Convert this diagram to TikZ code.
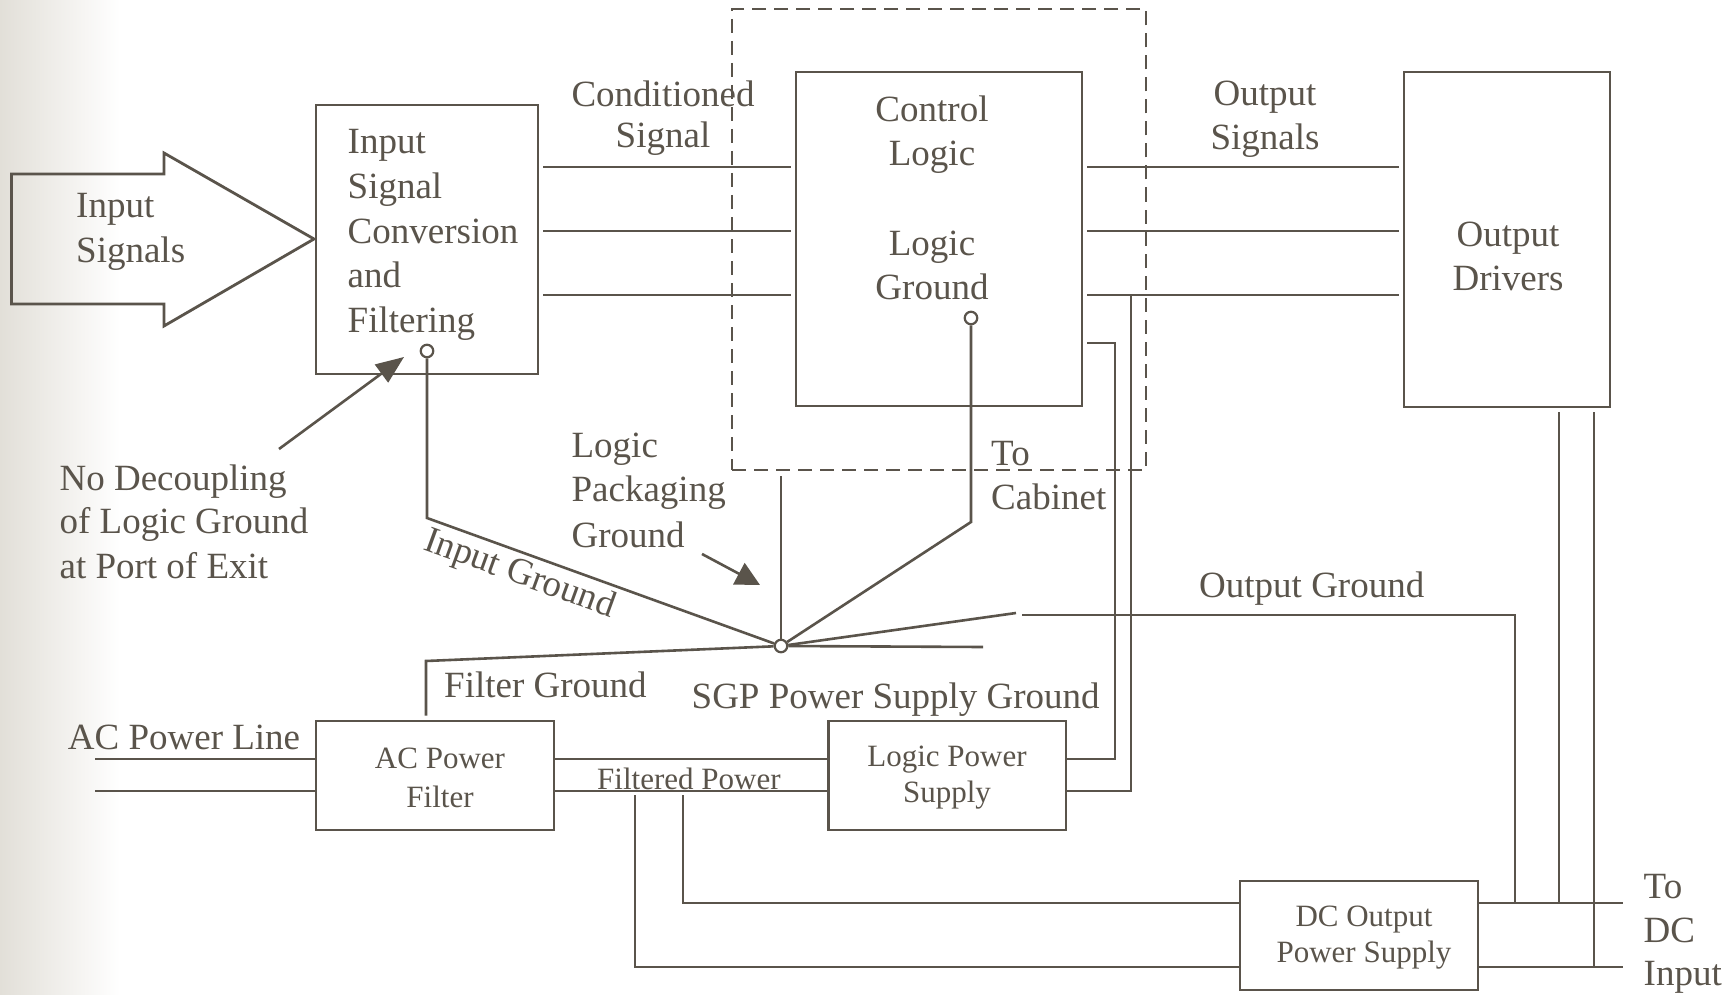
\documentclass[tikz,border=0pt]{standalone}
\usepackage{fontspec}
\setmainfont{Liberation Serif}
\usetikzlibrary{arrows.meta}
\definecolor{ink}{RGB}{90,84,75}
\definecolor{bgl}{RGB}{226,223,216}
\begin{document}
\begin{tikzpicture}[x=1pt,y=-1pt,
  ln/.style={draw=ink,line width=2.6pt},
  boxn/.style={draw=ink,line width=2.8pt,inner sep=0pt,rectangle},
  big/.style={text=ink,inner sep=0pt,font=\fontsize{37}{44}\selectfont},
  sm/.style={text=ink,inner sep=0pt,font=\fontsize{31}{38}\selectfont},
  gdot/.style={circle,draw=ink,fill=white,line width=2.2pt,minimum size=12.5pt,inner sep=0pt},
  annot/.style={ln,-{Triangle[length=28pt,width=22pt]}}]
\useasboundingbox (0,0) rectangle (1728,995);
\fill[white] (0,0) rectangle (1728,995);
\shade[left color=bgl,right color=white] (0,0) rectangle (120,995);

% packaging (dashed) enclosure
\node[draw=ink,line width=2pt,dash pattern=on 14pt off 8pt,minimum width=413.5pt,minimum height=461pt,inner sep=0pt] (pkg) at (938.75,239.5) {};

% boxes
\node[boxn,minimum width=222pt,minimum height=269pt] (isc) at (427,239.5) {};
\node[boxn,minimum width=286pt,minimum height=334pt] (cl) at (939,239) {};
\node[boxn,minimum width=206pt,minimum height=335pt] (od) at (1507,239.5) {};
\node[boxn,minimum width=238pt,minimum height=109pt] (acf) at (435,775.5) {};
\node[boxn,minimum width=237.5pt,minimum height=109pt] (lps) at (947.25,775.5) {};
\node[boxn,minimum width=238pt,minimum height=109pt] (dcps) at (1359,935.5) {};

% input arrow
\draw[ln,line width=2.8pt] (11.5,174) -- (164,174) -- (164,153) -- (314,239) coordinate (tip) -- (164,326) -- (164,304) -- (11.5,304) -- cycle;

% signal lines
\foreach \yy in {167,231,295} {
  \draw[ln,shorten <=4pt,shorten >=4pt] (isc.east |- 0,\yy) -- (cl.west |- 0,\yy);
  \draw[ln,shorten <=4pt,shorten >=4pt] (cl.east |- 0,\yy) -- (od.west |- 0,\yy);
}

% logic power connections
\coordinate (j3) at (1131,295);
\draw[ln,shorten <=4pt] (cl.east |- 0,343) -- (1115,343) -- (1115,759) -- (lps.east |- 0,759);
\draw[ln] (j3) -- (1131,791) -- (lps.east |- 0,791);

% AC power line
\coordinate (ac1) at (95,759);
\coordinate (ac2) at (95,791);
\draw[ln] (ac1) -- (acf.west |- ac1);
\draw[ln] (ac2) -- (acf.west |- ac2);
\draw[ln] (acf.east |- 0,759) -- (lps.west |- 0,759);
\draw[ln] (acf.east |- 0,791) -- (lps.west |- 0,791);
\coordinate (fp1) at (635,795);
\coordinate (fp2) at (683,795);
\draw[ln] (fp1) -- (635,967) -- (dcps.west |- 0,967);
\draw[ln] (fp2) -- (683,903) -- (dcps.west |- 0,903);

% DC outputs
\coordinate (dc1) at (1623,903);
\coordinate (dc2) at (1623,967);
\draw[ln] (dcps.east |- dc1) -- (dc1);
\draw[ln] (dcps.east |- dc2) -- (dc2);
\draw[ln,shorten <=4pt] (od.south -| 1559,0) -- (1559,903);
\draw[ln,shorten <=4pt] (od.south -| 1594,0) -- (1594,967);

% grounds
\node[gdot] (ig) at (427,351) {};
\node[gdot] (lg) at (971,318) {};
\node[gdot] (sgp) at (781,646) {};
\draw[ln] (ig) -- (427,518) -- (sgp);
\draw[ln] (lg) -- (971,522) -- (sgp);
\draw[ln,shorten <=5pt] (pkg.south -| sgp) -- (sgp);
\draw[ln,shorten <=4pt] (acf.north -| 426,0) -- (426,661) -- (sgp);
\coordinate (sgpr) at (983,647);
\draw[ln] (sgp) -- (sgpr);
\draw[ln] (sgp) -- (1016,613);
\draw[ln] (1022,615) -- (1515,615) -- (1515,903);

% annotation arrows
\coordinate (nd) at (279,449);
\coordinate (lpg) at (702,554);
\draw[annot] (nd) -- (404,357);
\draw[ln,-{Triangle[length=24pt,width=24pt]}] (lpg) -- (760,585);

% texts
\node[big,anchor=base west] (t1) at (76,218) {Input};
\node[big,anchor=base west] (t2) at (76,262) {Signals};
\node[big,anchor=base west] (t3) at (347.5,154) {Input};
\node[big,anchor=base west] (t4) at (347.5,198) {Signal};
\node[big,anchor=base west] (t5) at (347.5,243) {Conversion};
\node[big,anchor=base west] (t6) at (347.5,287) {and};
\node[big,anchor=base west] (t7) at (347.5,332) {Filtering};
\node[big,anchor=base] (t8) at (663,107) {Conditioned};
\node[big,anchor=base] (t9) at (663,148) {Signal};
\node[big,anchor=base] (t10) at (932,122) {Control};
\node[big,anchor=base] (t11) at (932,166) {Logic};
\node[big,anchor=base] (t12) at (932,255) {Logic};
\node[big,anchor=base] (t13) at (932,299) {Ground};
\node[big,anchor=base] (t14) at (1265,106) {Output};
\node[big,anchor=base] (t15) at (1265,150) {Signals};
\node[big,anchor=base] (t16) at (1508,246) {Output};
\node[big,anchor=base] (t17) at (1508,290) {Drivers};
\node[big,anchor=base west] (t18) at (59.4,490) {No Decoupling};
\node[big,anchor=base west] (t19) at (59.4,533) {of Logic Ground};
\node[big,anchor=base west] (t20) at (59.4,578) {at Port of Exit};
\node[big,anchor=base west] (t21) at (571.4,457) {Logic};
\node[big,anchor=base west] (t22) at (571.4,501) {Packaging};
\node[big,anchor=base west] (t23) at (571.4,547) {Ground};
\node[big,anchor=base west] (t24) at (991,465) {To};
\node[big,anchor=base west] (t25) at (991,509) {Cabinet};
\node[big,anchor=base west,rotate=-20] (t26) at (422,549) {Input Ground};
\node[big,anchor=base west] (t27) at (444,697) {Filter Ground};
\node[big,anchor=base west] (t28) at (691.5,708) {SGP Power Supply Ground};
\node[big,anchor=base west] (t29) at (1199,597) {Output Ground};
\node[big,anchor=base west] (t30) at (67.7,749) {AC Power Line};
\node[big,anchor=base west] (t31) at (1643.5,898) {To};
\node[big,anchor=base west] (t32) at (1643.5,942) {DC};
\node[big,anchor=base west] (t33) at (1643.5,985) {Input};
\node[sm,anchor=base] (s1) at (440,768) {AC Power};
\node[sm,anchor=base] (s2) at (440,807) {Filter};
\node[sm,anchor=base] (s3) at (947,766) {Logic Power};
\node[sm,anchor=base] (s4) at (947,802) {Supply};
\node[sm,anchor=base] (s5) at (1364,926) {DC Output};
\node[sm,anchor=base] (s6) at (1364,962) {Power Supply};
\node[sm,anchor=base west] (s7) at (597,789) {Filtered Power};
\end{tikzpicture}
\end{document}
